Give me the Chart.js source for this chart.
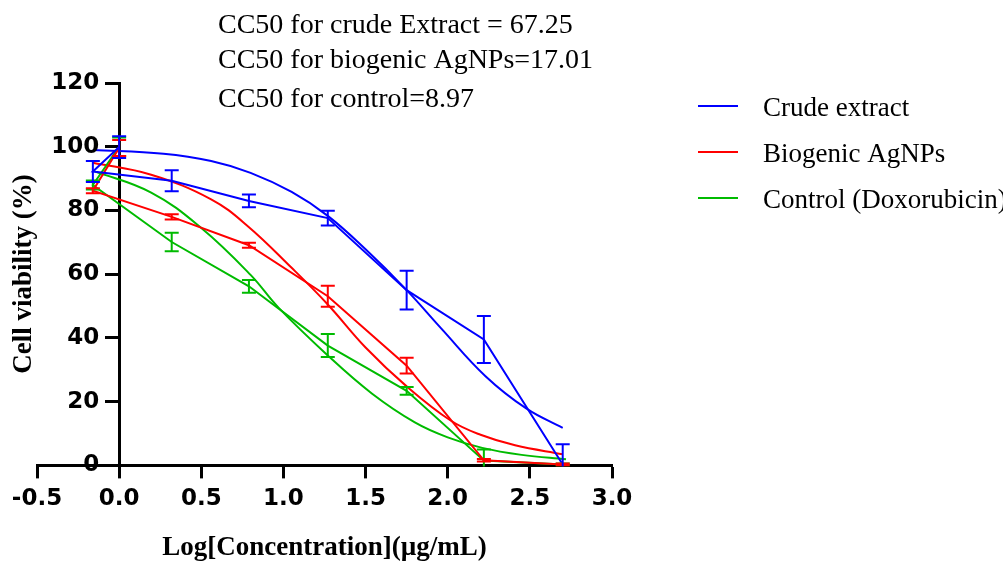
<!DOCTYPE html>
<html>
<head>
<meta charset="utf-8">
<script src="https://cdn.jsdelivr.net/npm/chart.js@4.4.1/dist/chart.umd.min.js"></script>
<style>
  html, body { margin: 0; padding: 0; background: #fff; }
</style>
</head>
<body>
<canvas id="viabilityChart" width="1003" height="562"></canvas>
<script>
// Valeurs (log de la concentration, viabilité en %)
const logConc = [0, -0.16, 0.32, 0.79, 1.27, 1.75, 2.22, 2.70];

const crudeMean = [99.9, 92.2, 89.3, 83.0, 77.6, 55.0, 39.5, 0.3];
const crudeErr  = [3.4, 3.3, 3.3, 2.0, 2.3, 6.1, 7.4, 6.3];
const agnpMean  = [99.6, 86.2, 78.0, 69.1, 53.1, 31.3, 1.6, 0.3];
const agnpErr   = [2.5, 0.8, 0.8, 0.8, 3.3, 2.5, 0.4, 0.3];
const doxoMean  = [100.0, 88.0, 70.1, 56.2, 37.6, 23.4, 1.5, 0.3];
const doxoErr   = [2.9, 1.4, 2.9, 2.0, 3.6, 1.2, 3.5, 0.3];

// Courbes ajustées (points relevés le long des courbes)
const crudeFitX = [-0.16, 0.27, 0.56, 0.80, 1.05, 1.27, 1.50, 1.75, 1.96, 2.23, 2.48, 2.70];
const crudeFitY = [99.0, 97.8, 95.5, 91.8, 85.8, 78.3, 67.8, 55.0, 43.0, 28.0, 17.8, 11.8];
const agnpFitX  = [-0.16, 0.195, 0.56, 0.785, 1.05, 1.27, 1.5, 1.75, 2.02, 2.2, 2.41, 2.70];
const agnpFitY  = [95.0, 91.2, 83.5, 75.0, 62.0, 50.5, 37.0, 24.8, 14.0, 9.6, 6.3, 3.5];
const doxoFitX  = [-0.16, 0.195, 0.5, 0.80, 0.97, 1.27, 1.54, 1.8, 2.0, 2.21, 2.45, 2.72];
const doxoFitY  = [92.5, 85.6, 74.5, 59.8, 49.5, 34.5, 22.5, 13.5, 8.8, 5.5, 3.3, 1.9];

const yTicks = [0, 20, 40, 60, 80, 100, 120];

const seriesNames  = ['Crude extract', 'Biogenic AgNPs', 'Control (Doxorubicin)'];
const seriesColors = ['#0000ff', '#ff0000', '#00bb00'];

const cc50Lines = [
  'CC50 for crude Extract = 67.25',
  'CC50 for biogenic AgNPs=17.01',
  'CC50 for control=8.97'
];

const xTitle = 'Log[Concentration](µg/mL)';
const yTitle = 'Cell viability (%)';

const toPoints = (xs, ys) => xs.map((x, i) => ({ x: x, y: ys[i] }));

const means = [crudeMean, agnpMean, doxoMean];
const errors = [crudeErr, agnpErr, doxoErr];
const fitsX = [crudeFitX, agnpFitX, doxoFitX];
const fitsY = [crudeFitY, agnpFitY, doxoFitY];

const datasets = [];
// lignes reliant les moyennes
means.forEach((m, i) => {
  datasets.push({
    label: seriesNames[i],
    data: toPoints(logConc, m),
    borderColor: seriesColors[i],
    backgroundColor: seriesColors[i],
    borderWidth: 2,
    pointRadius: 0,
    tension: 0
  });
});
// courbes ajustées
fitsX.forEach((fx, i) => {
  datasets.push({
    label: seriesNames[i] + ' fit',
    data: toPoints(fx, fitsY[i]),
    borderColor: seriesColors[i],
    borderWidth: 2,
    pointRadius: 0,
    tension: 0.4
  });
});

const tickFont = { family: '"DejaVu Sans", sans-serif', size: 23, weight: 'bold' };

// Barres d'erreur (coupées au niveau de l'axe X)
const errorBarsPlugin = {
  id: 'errorBars',
  afterDatasetsDraw(chart) {
    const ctx = chart.ctx;
    const xs = chart.scales.x;
    const ys = chart.scales.y;
    const area = chart.chartArea;
    ctx.save();
    ctx.beginPath();
    ctx.rect(area.left - 20, area.top - 20, area.right - area.left + 40, area.bottom - area.top + 21);
    ctx.clip();
    ctx.lineWidth = 2;
    for (let i = means.length - 1; i >= 0; i--) {
      ctx.strokeStyle = seriesColors[i];
      logConc.forEach((lc, j) => {
        const px = xs.getPixelForValue(lc);
        const top = ys.getPixelForValue(means[i][j] + errors[i][j]);
        const bot = ys.getPixelForValue(means[i][j] - errors[i][j]);
        ctx.beginPath();
        ctx.moveTo(px, top);
        ctx.lineTo(px, bot);
        ctx.moveTo(px - 7, top);
        ctx.lineTo(px + 7, top);
        ctx.moveTo(px - 7, bot);
        ctx.lineTo(px + 7, bot);
        ctx.stroke();
      });
    }
    ctx.restore();
  }
};

// Graduations Y, textes CC50, légende et titre de l'axe Y
const annotationsPlugin = {
  id: 'annotations',
  afterDraw(chart) {
    const ctx = chart.ctx;
    const xs = chart.scales.x;
    const ys = chart.scales.y;
    ctx.save();
    ctx.fillStyle = '#000';

    // étiquettes de l'axe Y (l'axe est placé en x = 0)
    ctx.font = 'bold 23px "DejaVu Sans", sans-serif';
    ctx.textAlign = 'right';
    ctx.textBaseline = 'middle';
    const axisX = xs.getPixelForValue(0);
    yTicks.forEach(v => ctx.fillText(String(v), axisX - 20, ys.getPixelForValue(v)));

    ctx.textAlign = 'left';
    ctx.textBaseline = 'alphabetic';
    ctx.font = '28px "Liberation Serif", "Times New Roman", serif';
    const cc50Y = [33, 68, 107];
    cc50Lines.forEach((t, i) => ctx.fillText(t, 218, cc50Y[i]));

    ctx.font = '27px "Liberation Serif", "Times New Roman", serif';
    seriesNames.forEach((name, i) => {
      const y = 106 + i * 46;
      ctx.strokeStyle = seriesColors[i];
      ctx.lineWidth = 2;
      ctx.beginPath();
      ctx.moveTo(698, y);
      ctx.lineTo(738, y);
      ctx.stroke();
      ctx.fillText(name, 763, y + 10);
    });

    ctx.translate(24, 274);
    ctx.rotate(-Math.PI / 2);
    ctx.textAlign = 'center';
    ctx.textBaseline = 'middle';
    ctx.font = 'bold 27px "Liberation Serif", "Times New Roman", serif';
    ctx.fillText(yTitle, 0, 0);
    ctx.restore();
  }
};

const chart = new Chart(document.getElementById('viabilityChart'), {
  type: 'line',
  data: { datasets: datasets },
  options: {
    responsive: false,
    animation: false,
    layout: { padding: { left: 37, right: 391, top: 83, bottom: 0 } },
    plugins: {
      legend: { display: false },
      tooltip: { enabled: false }
    },
    scales: {
      x: {
        type: 'linear',
        position: 'bottom',
        min: -0.5,
        max: 3.0,
        ticks: {
          stepSize: 0.5,
          color: '#000',
          font: tickFont,
          padding: 7,
          callback: v => v.toFixed(1)
        },
        grid: { drawOnChartArea: false, tickLength: 13, tickWidth: 3, color: '#000' },
        border: { display: true, width: 3, color: '#000' },
        title: {
          display: true,
          text: xTitle,
          color: '#000',
          font: { family: '"Liberation Serif", "Times New Roman", serif', size: 27, weight: 'bold', lineHeight: 1 },
          padding: { top: 15, bottom: 0 }
        }
      },
      y: {
        type: 'linear',
        position: { x: 0 },
        min: 0,
        max: 120,
        afterBuildTicks: scale => { scale.ticks = yTicks.map(v => ({ value: v })); },
        ticks: { display: false },
        grid: { drawOnChartArea: false, tickLength: 13, tickWidth: 3, color: '#000' },
        border: { display: true, width: 3, color: '#000' }
      }
    }
  },
  plugins: [errorBarsPlugin, annotationsPlugin]
});
</script>
</body>
</html>
